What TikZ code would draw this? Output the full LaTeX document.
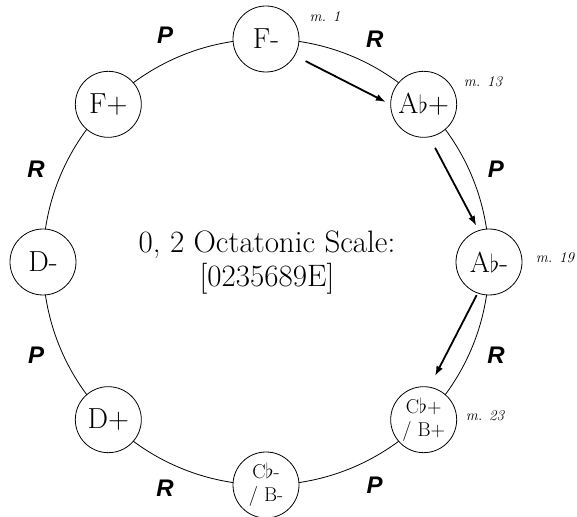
\documentclass[tikz,border=0pt]{standalone}
\usepackage{amssymb}
\usepackage{fontspec}
\newfontfamily\opfont{Liberation Sans}
\usetikzlibrary{arrows.meta}

\begin{document}
\begin{tikzpicture}[x=1pt,y=1pt,
		chord/.style={circle,draw,fill=white,line width=0.8pt,minimum size=66pt,inner sep=0pt,font=\fontsize{29}{32}\selectfont},
		chordtwo/.style={chord,font=\fontsize{20}{23}\selectfont,align=center},
		oplabel/.style={font=\opfont\bfseries\itshape\fontsize{24}{26}\selectfont},
		meas/.style={font=\itshape\fontsize{15}{17}\selectfont},
		move/.style={line width=1.8pt,-{Latex[length=10pt,width=7pt]}}]
		% Frame
		\useasboundingbox (-266,-254) rectangle (311,262);
		
		% Big circle
		\draw[line width=0.8pt] (0,0) circle (223);
		
		% Chords on the circle
		\node[chord] (Fm) at (90:223) {F-};
		\node[chord] (Abp) at (45:223) {A$\flat$+};
		\node[chord] (Abm) at (0:223) {A$\flat$-};
		\node[chordtwo] (Cbp) at (-45:223) {C$\flat$+\\/ B+};
		\node[chordtwo] (Cbm) at (-90:223) {C$\flat$-\\/ B-};
		\node[chord] (Dp) at (-135:223) {D+};
		\node[chord] (Dm) at (180:223) {D-};
		\node[chord] (Fp) at (135:223) {F+};
		
		% Centre text
		\node[font=\fontsize{31}{34}\selectfont,align=center] (title) at (1,-1) {0, 2 Octatonic Scale:\\ {[0235689E]}};
		
		% Operations between neighbours
		\foreach \a/\t [count=\i] in {64/R,22/P,-22/R,-64/P,-114/R,-158/P,158/R,114/P}
			\node[oplabel] (op\i) at (\a:248) {\t};
		
		% Measure numbers
		\node[meas] (m1) at (59,245) {m. 1};
		\node[meas] (m13) at (217,180) {m. 13};
		\node[meas] (m19) at (289,4) {m. 19};
		\node[meas] (m23) at (219,-154) {m. 23};
		
		% Path through the piece
		\draw[move,shorten <=12pt,shorten >=5pt] (Fm.-30) -- (Abp.180);
		\draw[move,shorten <=12pt,shorten >=5pt] (Abp.-80) -- (Abm.108);
		\draw[move,shorten <=2pt,shorten >=12pt] (Abm.-110) -- (Cbp.80);
	\end{tikzpicture}
\end{document}
